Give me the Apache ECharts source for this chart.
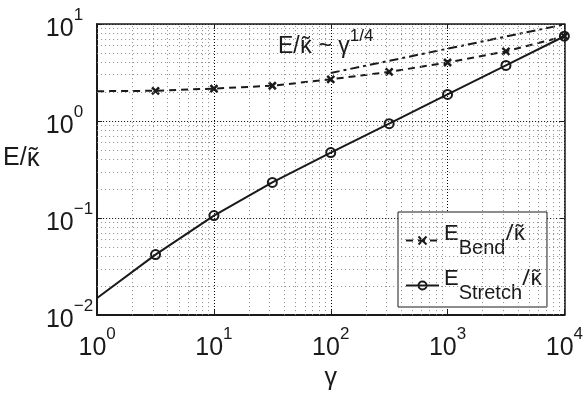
<!DOCTYPE html>
<html>
<head>
<meta charset="utf-8">
<script src="https://cdn.jsdelivr.net/npm/echarts@6/dist/echarts.min.js"></script>
<style>
html,body{margin:0;padding:0;background:#fff;}
#chart{width:586px;height:396px;}
</style>
</head>
<body>
<div id="chart"></div>
<script>
// ---- data ----
const gammaPts = [1, 3.162, 10, 31.62, 100, 316.2, 1000, 3162, 10000];
const bendVals = [2.03, 2.05, 2.16, 2.31, 2.69, 3.21, 4.01, 5.22, 7.48];
const stretchVals = [0.0150, 0.042, 0.106, 0.233, 0.473, 0.94, 1.88, 3.74, 7.48];
const refGamma = [100, 10000];
const refVals = [3.13, 9.9];
const xTicks = [1, 10, 100, 1000, 10000];
const xTickExp = ['0', '1', '2', '3', '4'];
const yTicks = [0.01, 0.1, 1, 10];
const yTickExp = ['\u22122', '\u22121', '0', '1'];
const seriesNames = ['Bend', 'Stretch'];

// minor grid positions (2..9 within each decade)
const minorX = [];
for (let e = 0; e < 4; e++) for (let m = 2; m <= 9; m++) minorX.push(m * Math.pow(10, e));
const minorY = [];
for (let e = -2; e < 1; e++) for (let m = 2; m <= 9; m++) minorY.push(+(m * Math.pow(10, e)).toPrecision(3));

const FONT = '"Liberation Sans", Arial, Helvetica, sans-serif';
const KFONT = '"Noto Sans", "DejaVu Sans", sans-serif';
const INK = '#1a1a1a';

function nearestIdx(ticks, v) {
  let best = 0, bd = Infinity;
  ticks.forEach((t, i) => { const d = Math.abs(Math.log10(t) - Math.log10(v)); if (d < bd) { bd = d; best = i; } });
  return best;
}
function xLabel(v) { return '{b|10}{s|' + xTickExp[nearestIdx(xTicks, v)] + '}'; }
function yLabel(v) {
  const e = yTickExp[nearestIdx(yTicks, v)];
  return '{b|10}{' + (e.charAt(0) === '\u2212' ? 's' : 'sp') + '|' + e + '}';
}

const chart = echarts.init(document.getElementById('chart'), null, {renderer: 'canvas'});

const kappa = '\u03BA\u0303';

const option = {
  animation: false,
  backgroundColor: '#fff',
  textStyle: {fontFamily: FONT, color: INK},
  grid: {left: 87, right: 20, top: 24, bottom: 70, containLabel: false},
  xAxis: [{
    type: 'log', logBase: 10, min: 1, max: 10000,
    position: 'bottom',
    axisLine: {show: true, onZero: false, lineStyle: {color: INK, width: 2}},
    axisTick: {show: true, inside: true, length: 5, customValues: xTicks, lineStyle: {color: INK, width: 1}},
    axisLabel: {
      show: true, margin: 11, customValues: xTicks,
      formatter: xLabel,
      rich: {
        b: {fontSize: 25, fontFamily: FONT, color: INK, verticalAlign: 'bottom'},
        s: {fontSize: 17, fontFamily: FONT, color: INK, verticalAlign: 'bottom', padding: [0, 0, 18, 0]}
      }
    },
    splitLine: {show: true, lineStyle: {color: '#000', type: [1, 2], width: 1}},
    name: '\u03B3', nameLocation: 'middle', nameGap: 38,
    nameTextStyle: {fontSize: 25, fontFamily: FONT, color: INK}
  }, {
    type: 'log', logBase: 10, min: 1, max: 10000,
    position: 'top',
    axisLine: {show: true, onZero: false, lineStyle: {color: INK, width: 1.5}},
    axisTick: {show: true, inside: true, length: 5, customValues: xTicks, lineStyle: {color: INK, width: 1}},
    axisLabel: {show: false},
    splitLine: {show: false}
  }],
  yAxis: [{
    type: 'log', logBase: 10, min: 0.01, max: 10,
    position: 'left',
    axisLine: {show: true, onZero: false, lineStyle: {color: INK, width: 2}},
    axisTick: {show: true, inside: true, length: 5, customValues: yTicks, lineStyle: {color: INK, width: 1}},
    axisLabel: {
      show: true, margin: 4, customValues: yTicks,
      formatter: yLabel,
      rich: {
        b: {fontSize: 25, fontFamily: FONT, color: INK, verticalAlign: 'bottom'},
        s: {fontSize: 17, fontFamily: FONT, color: INK, verticalAlign: 'bottom', padding: [0, 0, 18, 0]},
        sp: {fontSize: 17, fontFamily: FONT, color: INK, verticalAlign: 'bottom', padding: [0, 10, 18, 0]}
      }
    },
    splitLine: {show: true, lineStyle: {color: '#000', type: [1, 2], width: 1}},
    name: '{e|E/}{k|' + kappa + '}', nameLocation: 'middle', nameGap: 34, nameRotate: 0,
    nameTextStyle: {
      padding: [0, 0, 22, 0],
      rich: {
        e: {fontSize: 25, fontFamily: FONT, color: INK},
        k: {fontSize: 25, fontFamily: KFONT, color: INK}
      }
    }
  }, {
    type: 'log', logBase: 10, min: 0.01, max: 10,
    position: 'right',
    axisLine: {show: true, onZero: false, lineStyle: {color: INK, width: 1.5}},
    axisTick: {show: true, inside: true, length: 5, customValues: yTicks, lineStyle: {color: INK, width: 1}},
    axisLabel: {show: false},
    splitLine: {show: false}
  }],
  legend: {
    data: seriesNames,
    orient: 'vertical',
    left: 398, top: 212,
    padding: [11, 5, 4, 7],
    itemGap: 10,
    itemWidth: 33, itemHeight: 10,
    itemTextGap: 4,
    backgroundColor: '#fff',
    borderColor: INK, borderWidth: 1, borderRadius: 0,
    formatter: function (name) { return '{m|E}{sub|' + name + '}{k|/' + kappa + '}'; },
    textStyle: {
      rich: {
        m: {fontSize: 22, fontFamily: FONT, color: INK, verticalAlign: 'bottom', padding: [0, 0, 13, 0]},
        k: {fontSize: 22, fontFamily: KFONT, color: INK, verticalAlign: 'bottom', padding: [0, 0, 13, 0]},
        sub: {fontSize: 20, fontFamily: FONT, color: INK, verticalAlign: 'bottom'}
      }
    }
  },
  graphic: [{
    type: 'text', left: 278, top: 28,
    style: {
      text: '{a|E/}{k|' + kappa + '}{a| ~ \u03B3}{b|1/4}',
      rich: {
        a: {fontSize: 23, fontFamily: FONT, fill: INK, verticalAlign: 'bottom'},
        k: {fontSize: 23, fontFamily: KFONT, fill: INK, verticalAlign: 'bottom'},
        b: {fontSize: 17, fontFamily: FONT, fill: INK, verticalAlign: 'bottom', padding: [0, 0, 13, 0]}
      }
    },
    z: 10
  }],
  series: [{
    name: 'grid-minor', type: 'line', data: [], silent: true, z: 1,
    markLine: {
      silent: true, symbol: ['none', 'none'], label: {show: false},
      lineStyle: {color: '#8a8a8a', type: [1, 3], width: 1},
      emphasis: {disabled: true},
      data: minorX.map(v => ({xAxis: v})).concat(minorY.map(v => ({yAxis: v})))
    }
  }, {
    name: 'ref', type: 'line', z: 3,
    data: refGamma.map((g, i) => [g, refVals[i]]),
    symbol: 'none',
    lineStyle: {color: INK, width: 2, type: [9, 4, 3, 4]}
  }, {
    name: 'Bend', type: 'line', z: 4,
    data: gammaPts.map((g, i) => i === 0 ? {value: [g, bendVals[i]], symbol: 'none'} : [g, bendVals[i]]),
    symbol: 'path://M0,0L10,10M10,0L0,10',
    symbolSize: 7,
    showAllSymbol: true,
    itemStyle: {color: INK, borderColor: INK, borderWidth: 2.5},
    lineStyle: {color: INK, width: 2, type: [7, 5]}
  }, {
    name: 'Stretch', type: 'line', z: 5,
    data: gammaPts.map((g, i) => i === 0 ? {value: [g, stretchVals[i]], symbol: 'none'} : [g, stretchVals[i]]),
    symbol: 'circle',
    symbolSize: 9,
    showAllSymbol: true,
    itemStyle: {color: 'rgba(255,255,255,0)', borderColor: INK, borderWidth: 2},
    lineStyle: {color: INK, width: 2}
  }]
};
chart.setOption(option);
</script>
</body>
</html>
